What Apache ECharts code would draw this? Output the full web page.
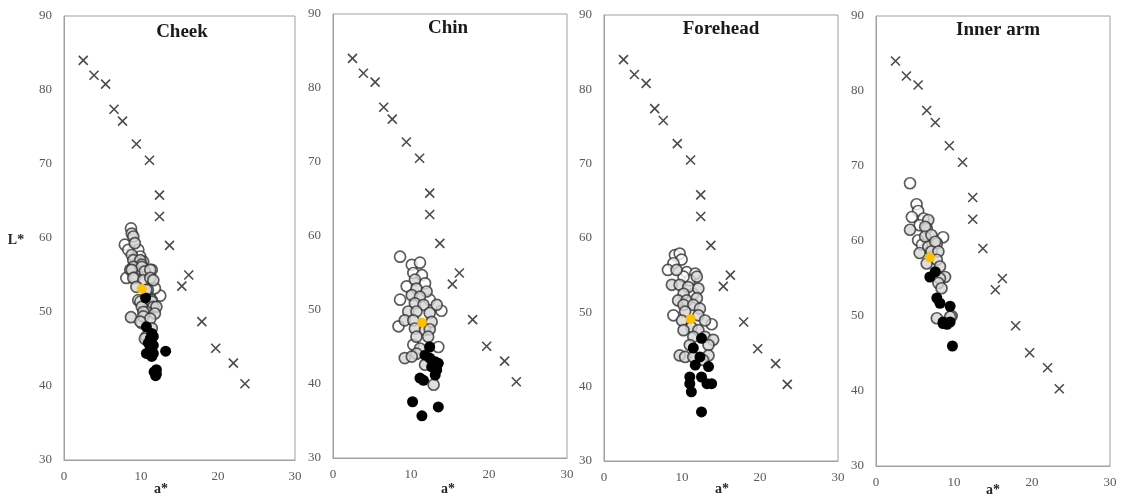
<!DOCTYPE html>
<html>
<head>
<meta charset="utf-8">
<script src="https://cdn.jsdelivr.net/npm/echarts@6/dist/echarts.min.js"></script>
<style>
  html, body { margin: 0; padding: 0; background: #ffffff; }
  #chart { width: 1123px; height: 501px; }
</style>
</head>
<body>
<div id="chart"></div>
<script>
// Panel titles (body sites)
const panels = ['Cheek', 'Chin', 'Forehead', 'Inner arm'];

// Axis ticks
const xTicks = [0, 10, 20, 30];
const yTicks = [30, 40, 50, 60, 70, 80, 90];

// Reference colour tiles [a*, L*] (same in every panel)
const reference = [[2.5,84],[3.9,82],[5.4,80.8],[6.5,77.4],[7.6,75.8],[9.4,72.7],[11.1,70.5],[12.4,65.8],[12.4,62.9],[13.7,59],[16.2,55],[15.3,53.5],[17.9,48.7],[19.7,45.1],[22,43.1],[23.5,40.3]];

// Cheek
const cheekLight = [[8.7,61.3],[7.9,59.1],[9.65,58.4],[8.35,58.4],[11.4,55.7],[12.5,52.2],[11.8,53.2],[9.65,51.6],[10.1,48.5],[8.1,54.6],[9.9,57.5]];
const cheekMid = [[8.8,60.6],[9.0,60.2],[9.2,59.3],[8.8,57.7],[9.0,57.0],[10.3,56.8],[9.9,57.0],[10.1,56.4],[9.0,56.1],[10.1,56.1],[8.6,55.7],[8.8,55.7],[10.5,55.5],[11.2,55.7],[9.2,54.6],[9.0,54.6],[10.3,54.3],[11.2,54.6],[11.6,54.3],[9.4,53.4],[10.9,53.0],[10.7,53.0],[11.4,51.6],[9.9,51.4],[11.4,51.4],[10.1,50.7],[11.6,50.7],[12.0,50.7],[10.7,50.0],[10.3,50.0],[11.8,49.8],[8.7,49.3],[10.3,49.4],[11.2,49.1],[9.9,48.7],[11.4,47.8],[10.7,46.7],[10.5,46.4]];
const cheekDark = [[10.6,51.9],[10.7,48.0],[11.4,47.1],[11.2,46.4],[11.6,46.7],[10.95,45.8],[11.6,45.5],[11.2,44.9],[10.7,44.4],[11.6,44.4],[11.4,44.0],[13.2,44.7],[12.0,42.2],[11.7,41.9],[12.0,41.6],[11.9,41.4]];
const cheekMean = [[10.1,53.1]];

// Chin
const chinLight = [[8.6,57.2],[10.1,56.1],[11.15,56.4],[10.3,55.0],[11.4,54.7],[9.45,53.2],[8.6,51.4],[12.4,51.4],[13.9,49.9],[8.4,47.8],[13.5,45.0],[10.3,45.3],[11.8,53.6]];
const chinMid = [[10.5,54.1],[10.7,52.9],[12.0,52.5],[10.1,52.0],[11.15,51.8],[10.5,50.9],[11.6,50.7],[13.3,50.7],[9.65,49.8],[10.7,49.8],[12.4,49.6],[9.2,48.6],[10.3,48.6],[12.65,48.4],[10.5,47.5],[11.8,47.3],[12.4,47.4],[10.7,46.4],[12.2,46.4],[11.15,44.8],[10.7,44.1],[9.2,43.5],[10.1,43.7],[11.8,42.6],[12.9,39.9]];
const chinDark = [[12.4,45.0],[11.8,43.9],[12.4,43.5],[13.1,43.0],[13.5,42.8],[12.65,42.3],[13.3,41.9],[13.1,41.2],[11.15,40.8],[11.6,40.5],[10.2,37.6],[13.5,36.9],[11.4,35.7]];
const chinMean = [[11.4,48.3]];

// Forehead
const foreheadLight = [[9.1,57.7],[9.7,57.9],[9.95,57.1],[8.9,56.6],[8.2,55.7],[10.6,55.4],[11.7,55.2],[11.0,54.3],[11.45,52.5],[8.9,49.6],[13.8,48.4],[10.2,54.8]];
const foreheadMid = [[9.3,55.7],[11.9,54.8],[8.7,53.7],[9.7,53.7],[10.8,53.4],[12.1,53.2],[10.2,52.5],[9.5,51.6],[10.6,51.6],[11.9,51.9],[10.2,51.0],[11.45,51.0],[12.3,50.5],[10.4,50.1],[12.1,49.6],[12.95,48.9],[10.0,48.9],[11.2,48.0],[10.2,47.6],[12.1,47.6],[11.45,46.7],[12.95,46.7],[14.0,46.3],[13.4,45.6],[11.0,45.6],[9.7,44.2],[10.4,44.0],[11.45,44.0],[13.4,44.2],[12.7,43.6]];
const foreheadDark = [[12.5,46.5],[11.45,45.2],[12.3,44.0],[11.7,42.9],[13.4,42.7],[11.0,41.3],[12.5,41.3],[11.0,40.4],[13.2,40.4],[13.8,40.4],[11.2,39.3],[12.5,36.6]];
const foreheadMean = [[11.1,49.1]];

// Inner arm
const armLight = [[4.36,67.7],[5.2,64.9],[5.4,64.0],[4.6,63.2],[6.1,63.0],[5.6,62.1],[8.6,60.5],[5.4,60.1],[5.9,59.5]];
const armMid = [[6.7,62.8],[4.36,61.5],[6.5,61.7],[6.3,61.9],[6.3,60.6],[7.1,60.8],[6.7,59.2],[7.8,59.7],[7.6,59.9],[5.6,58.4],[7.1,58.6],[8.0,58.6],[6.5,57.0],[7.8,57.5],[8.2,56.6],[8.85,55.2],[8.2,55.0],[8.0,54.4],[8.4,53.7],[7.8,49.7],[9.7,50.0],[9.5,49.9]];
const armDark = [[6.9,55.2],[7.6,55.9],[7.8,52.4],[8.2,51.7],[9.5,51.3],[8.6,49.2],[9.1,48.9],[9.5,49.2],[8.6,49.0],[9.8,46.0]];
const armMean = [[6.9,57.8]];

const groups = [
  [cheekLight, cheekMid, cheekDark, cheekMean],
  [chinLight, chinMid, chinDark, chinMean],
  [foreheadLight, foreheadMid, foreheadDark, foreheadMean],
  [armLight, armMid, armDark, armMean]
];

// Plot-area boxes in pixels
const boxes = [
  { left: 64,  top: 16, width: 231, height: 444 },
  { left: 333, top: 14, width: 234, height: 444 },
  { left: 604, top: 15, width: 234, height: 446 },
  { left: 876, top: 16, width: 234, height: 450 }
];
// Title centres and x-axis name positions
const titlePos = [[182, 32], [448, 28], [721, 29], [998, 30]];
const axisNamePos = [[161, 489], [448, 489], [722, 489], [993, 490]];

const serif = '"Liberation Serif", "DejaVu Serif", serif';
const frame = '#a0a0a0';
const tickColor = '#595959';

const grids = [], xAxes = [], yAxes = [], series = [], graphics = [];

boxes.forEach((b, i) => {
  grids.push({ left: b.left, top: b.top, width: b.width, height: b.height,
    show: true, borderColor: frame, borderWidth: 1, backgroundColor: '#ffffff', containLabel: false });
  xAxes.push({ type: 'value', gridIndex: i, min: xTicks[0], max: xTicks[xTicks.length - 1], interval: 10,
    axisLine: { show: true, onZero: false, lineStyle: { color: frame } },
    axisTick: { show: false }, splitLine: { show: false },
    axisLabel: { color: tickColor, fontFamily: serif, fontSize: 13, margin: 10 } });
  yAxes.push({ type: 'value', gridIndex: i, min: yTicks[0], max: yTicks[yTicks.length - 1], interval: 10,
    axisLine: { show: true, onZero: false, lineStyle: { color: frame } },
    axisTick: { show: false }, splitLine: { show: false },
    axisLabel: { color: tickColor, fontFamily: serif, fontSize: 13, margin: 12 } });

  graphics.push({ type: 'text', x: titlePos[i][0], y: titlePos[i][1], z: 10,
    style: { text: panels[i], font: 'bold 19px ' + serif, fill: '#1a1a1a',
      textAlign: 'center', textVerticalAlign: 'middle' } });
  graphics.push({ type: 'text', x: axisNamePos[i][0], y: axisNamePos[i][1], z: 10,
    style: { text: 'a*', font: 'bold 14px ' + serif, fill: '#262626',
      textAlign: 'center', textVerticalAlign: 'middle' } });

  const [light, mid, dark, mean] = groups[i];
  series.push({ type: 'scatter', xAxisIndex: i, yAxisIndex: i, data: reference,
    symbol: 'path://M0,0L10,10M10,0L0,10', symbolSize: 9,
    itemStyle: { color: 'rgba(0,0,0,0)', borderColor: '#1e1e1e', borderWidth: 1.6 }, z: 3 });
  series.push({ type: 'scatter', xAxisIndex: i, yAxisIndex: i, data: light,
    symbol: 'circle', symbolSize: 11,
    itemStyle: { color: '#ffffff', borderColor: '#333333', borderWidth: 1.7 }, z: 4 });
  series.push({ type: 'scatter', xAxisIndex: i, yAxisIndex: i, data: mid,
    symbol: 'circle', symbolSize: 11,
    itemStyle: { color: '#d6d6d6', borderColor: '#333333', borderWidth: 1.7 }, z: 5 });
  series.push({ type: 'scatter', xAxisIndex: i, yAxisIndex: i, data: dark,
    symbol: 'circle', symbolSize: 11,
    itemStyle: { color: '#000000', borderColor: '#000000', borderWidth: 0, opacity: 1 }, z: 6 });
  series.push({ type: 'scatter', xAxisIndex: i, yAxisIndex: i, data: mean,
    symbol: 'circle', symbolSize: 10,
    itemStyle: { color: '#ffc000', borderWidth: 0, opacity: 1 }, z: 7 });
});

// Vertical axis name on the first panel
graphics.push({ type: 'text', x: 16, y: 240, z: 10,
  style: { text: 'L*', font: 'bold 14px ' + serif, fill: '#262626',
    textAlign: 'center', textVerticalAlign: 'middle' } });

const chart = echarts.init(document.getElementById('chart'), null, { renderer: 'canvas' });
chart.setOption({
  animation: false,
  backgroundColor: '#ffffff',
  grid: grids,
  xAxis: xAxes,
  yAxis: yAxes,
  series: series,
  graphic: graphics
});
</script>
</body>
</html>
